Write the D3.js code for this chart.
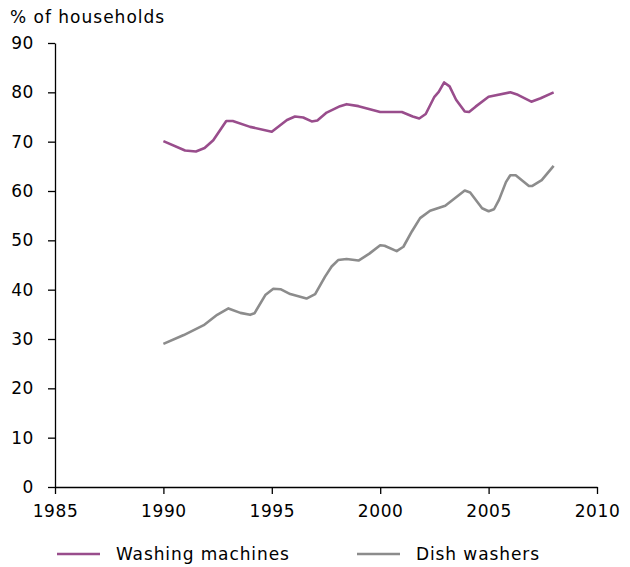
<!DOCTYPE html>
<html>
<head>
<meta charset="utf-8">
<script src="https://cdn.jsdelivr.net/npm/d3@7"></script>
<style>
  body { margin: 0; background: #fff; }
  text { font-family: Verdana, "DejaVu Sans", sans-serif; }
</style>
</head>
<body>
<div id="chart"></div>
<script>
// washing machines, % of households
var washYears = [1990, 1991, 1991.5, 1991.9, 1992.3, 1992.9, 1993.2, 1994, 1995, 1995.7, 1996.07, 1996.45, 1996.84, 1997.1, 1997.53, 1998.15, 1998.45, 1999, 2000, 2001, 2001.5, 2001.8, 2002.1, 2002.5, 2002.7, 2002.95, 2003.2, 2003.5, 2003.9, 2004.1, 2004.4, 2005, 2006, 2006.35, 2006.97, 2007.4, 2008]
var washValues = [70.1, 68.2, 68.0, 68.7, 70.3, 74.2, 74.2, 73.0, 72.0, 74.4, 75.1, 74.9, 74.1, 74.3, 75.9, 77.2, 77.6, 77.2, 76.0, 76.0, 75.1, 74.7, 75.6, 79.1, 80.1, 82.0, 81.2, 78.5, 76.1, 76.0, 77.1, 79.1, 80.0, 79.5, 78.1, 78.8, 80.0]

// dish washers, % of households
var dishYears = [1990, 1990.94, 1991.86, 1992.48, 1993, 1993.55, 1994, 1994.2, 1994.7, 1995.07, 1995.4, 1995.85, 1996.6, 1997, 1997.45, 1997.76, 1998.06, 1998.45, 1999, 1999.5, 2000, 2000.2, 2000.76, 2001.07, 2001.46, 2001.84, 2002.3, 2003, 2003.9, 2004.15, 2004.7, 2005, 2005.25, 2005.48, 2005.8, 2006, 2006.25, 2006.86, 2007, 2007.45, 2008]
var dishValues = [29.0, 30.8, 32.8, 34.9, 36.2, 35.3, 34.9, 35.2, 38.9, 40.2, 40.1, 39.1, 38.2, 39.1, 42.6, 44.7, 46.0, 46.2, 45.9, 47.3, 49.0, 48.9, 47.8, 48.7, 51.8, 54.5, 56.0, 57.0, 60.1, 59.7, 56.5, 55.9, 56.3, 58.2, 61.8, 63.2, 63.2, 61.0, 61.0, 62.2, 65.1]

var xTicks = [1985, 1990, 1995, 2000, 2005, 2010]
var yTicks = [0, 10, 20, 30, 40, 50, 60, 70, 80, 90]
var seriesNames = ["Washing machines", "Dish washers"]
var seriesColors = ["#994d8c", "#8c8c8c"]

var width = 630, height = 567
var margin = {left: 55, right: 33, top: 43, bottom: 80}

var svg = d3.select("#chart").append("svg")
    .attr("width", width)
    .attr("height", height)

var x = d3.scaleLinear().domain([1985, 2010]).range([margin.left, width - margin.right])
var y = d3.scaleLinear().domain([0, 90]).range([height - margin.bottom, margin.top])

// axes
var xAxis = svg.append("g")
    .attr("transform", "translate(0," + y(0) + ")")
    .call(d3.axisBottom(x).tickValues(xTicks).tickFormat(d3.format("d")).tickSize(7).tickSizeOuter(0))
xAxis.selectAll("text").attr("y", 18)

var yAxis = svg.append("g")
    .attr("transform", "translate(" + x(1985) + ",0)")
    .call(d3.axisLeft(y).tickValues(yTicks).tickSize(7).tickSizeOuter(0))
yAxis.selectAll("text").attr("x", -21)

svg.selectAll(".domain, .tick line").attr("stroke", "#000").attr("stroke-width", 1.3)
svg.selectAll(".tick text").attr("font-size", 17).attr("fill", "#000")
  .style("font-family", "Verdana, 'DejaVu Sans', sans-serif")
  .style("letter-spacing", "0.6px")

svg.append("text")
    .attr("x", 10)
    .attr("y", 23)
    .attr("font-size", 17)
    .style("letter-spacing", "1px")
    .text("% of households")

// lines
var series = [
  {years: washYears, values: washValues},
  {years: dishYears, values: dishValues}
]
var line = d3.line()
    .x(function(d) { return x(d[0]) })
    .y(function(d) { return y(d[1]) })

series.forEach(function(s, i) {
  var pts = s.years.map(function(yr, j) { return [yr, s.values[j]] })
  svg.append("path")
      .datum(pts)
      .attr("d", line)
      .attr("fill", "none")
      .attr("stroke", seriesColors[i])
      .attr("stroke-width", 2.6)
      .attr("stroke-linejoin", "round")
})

// legend
var legendX = [57, 357]
seriesNames.forEach(function(name, i) {
  var g = svg.append("g").attr("transform", "translate(" + legendX[i] + ",554)")
  g.append("line")
      .attr("x1", 0).attr("x2", 43)
      .attr("stroke", seriesColors[i])
      .attr("stroke-width", 2.6)
  g.append("text")
      .attr("x", 59)
      .attr("dy", "0.35em")
      .attr("font-size", 17)
      .style("letter-spacing", "0.9px")
      .text(name)
})
</script>
</body>
</html>
